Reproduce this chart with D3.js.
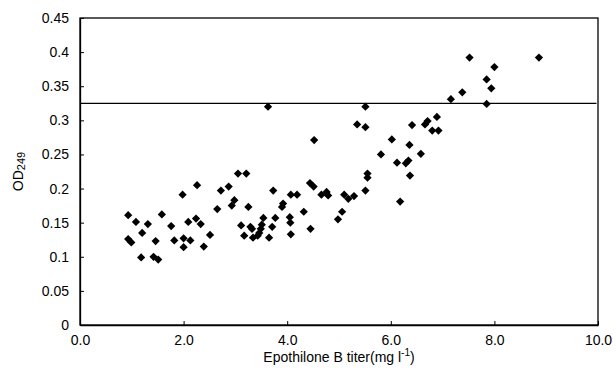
<!DOCTYPE html>
<html>
<head>
<meta charset="utf-8">
<script src="https://cdn.jsdelivr.net/npm/d3@7"></script>
<style>
  body { margin: 0; background: #fff; }
  text { font-family: "Liberation Sans", Arial, sans-serif; }
</style>
</head>
<body>
<div id="chart"></div>
<script>
// epothilone B titer (mg/l) vs OD249
var titer = [0.93, 0.93, 0.99, 1.08, 1.18, 1.20, 1.31, 1.42, 1.46, 1.51,
             1.58, 1.76, 1.82, 1.98, 2.00, 2.00, 2.09, 2.13, 2.24, 2.26,
             2.33, 2.39, 2.51, 2.65, 2.72, 2.87, 2.93, 2.98, 3.05, 3.21,
             3.11, 3.17, 3.25, 3.29, 3.32, 3.34, 3.43, 3.46, 3.49, 3.51,
             3.54, 3.63, 3.65, 3.71, 3.73, 3.77, 3.90, 3.92, 4.05, 4.06,
             4.07, 4.07, 4.19, 4.32, 4.44, 4.51, 4.45, 4.52, 4.66, 4.76,
             4.79, 4.98, 5.06, 5.10, 5.18, 5.29, 5.35, 5.51, 5.51, 5.51,
             5.55, 5.55, 5.81, 6.02, 6.12, 6.18, 6.29, 6.34, 6.36, 6.37,
             6.41, 6.58, 6.66, 6.71, 6.80, 6.89, 6.92, 7.16, 7.38, 7.52,
             7.85, 7.85, 7.94, 8.00, 8.86];
var od = [0.161, 0.126, 0.121, 0.151, 0.099, 0.135, 0.148, 0.100, 0.123, 0.096,
          0.162, 0.145, 0.124, 0.191, 0.127, 0.114, 0.151, 0.124, 0.156, 0.205,
          0.148, 0.115, 0.132, 0.170, 0.197, 0.203, 0.175, 0.183, 0.222, 0.222,
          0.146, 0.131, 0.173, 0.144, 0.141, 0.128, 0.131, 0.135, 0.141, 0.147,
          0.157, 0.320, 0.128, 0.144, 0.197, 0.157, 0.173, 0.178, 0.158, 0.150,
          0.133, 0.191, 0.191, 0.166, 0.208, 0.203, 0.141, 0.271, 0.191, 0.195,
          0.190, 0.155, 0.166, 0.191, 0.185, 0.189, 0.294, 0.290, 0.320, 0.197,
          0.222, 0.216, 0.250, 0.272, 0.238, 0.181, 0.237, 0.241, 0.264, 0.219,
          0.293, 0.251, 0.294, 0.299, 0.285, 0.305, 0.285, 0.331, 0.341, 0.392,
          0.324, 0.360, 0.347, 0.378, 0.392];
var xTicks = [0, 2, 4, 6, 8, 10];
var yTicks = [0, 0.05, 0.1, 0.15, 0.2, 0.25, 0.3, 0.35, 0.4, 0.45];
var threshold = 0.325;

var margin = {top: 18, right: 18, bottom: 56, left: 80};
var width = 616 - margin.left - margin.right,
    height = 381 - margin.top - margin.bottom;

var svg = d3.select("#chart")
    .append("svg")
    .attr("width", 616)
    .attr("height", 381)
    .append("g")
    .attr("transform", "translate(" + margin.left + "," + margin.top + ")");

var x = d3.scaleLinear().domain([0, 10]).range([0, width]);
var y = d3.scaleLinear().domain([0, 0.45]).range([height, 0]);

// frame
svg.append("rect")
    .attr("x", 0).attr("y", 0)
    .attr("width", width).attr("height", height)
    .attr("fill", "none")
    .attr("stroke", "#000")
    .attr("stroke-width", 1.3);

var xAxis = svg.append("g")
    .attr("transform", "translate(0," + height + ")")
    .call(d3.axisBottom(x).tickValues(xTicks).tickFormat(d3.format(".1f"))
          .tickSizeInner(-4).tickSizeOuter(0).tickPadding(10));

var yAxis = svg.append("g")
    .call(d3.axisLeft(y).tickValues(yTicks).tickFormat(d => d3.format("")(+d.toFixed(2)))
          .tickSizeInner(-4).tickSizeOuter(0).tickPadding(11));

[xAxis, yAxis].forEach(function(a) {
    a.select(".domain").attr("stroke", "#000").attr("stroke-width", 1.3);
    a.selectAll(".tick line").attr("stroke", "#000");
    a.selectAll(".tick text").style("font-size", "14px").attr("fill", "#000");
});

// reference line
svg.append("line")
    .attr("x1", x(0)).attr("x2", x(9.97))
    .attr("y1", y(threshold)).attr("y2", y(threshold))
    .attr("stroke", "#000")
    .attr("stroke-width", 1.3);

var diamond = d3.symbol().type(d3.symbolSquare).size(34);
svg.selectAll(".pt")
    .data(d3.range(titer.length))
    .join("path")
    .attr("class", "pt")
    .attr("d", diamond)
    .attr("transform", i => "translate(" + x(titer[i]) + "," + y(od[i]) + ") rotate(45)")
    .attr("fill", "#000");

// axis titles
var xl = svg.append("text")
    .attr("x", width / 2)
    .attr("y", height + 37)
    .attr("text-anchor", "middle")
    .style("font-size", "14px");
xl.append("tspan").text("Epothilone B titer(mg l");
xl.append("tspan").attr("dy", -6).style("font-size", "10px").text("-1");
xl.append("tspan").attr("dy", 6).text(")");

var yl = svg.append("text")
    .attr("transform", "translate(-57," + (height / 2) + ") rotate(-90)")
    .attr("text-anchor", "middle")
    .style("font-size", "14px");
yl.append("tspan").text("OD");
yl.append("tspan").attr("dy", 2).style("font-size", "11px").text("249");
</script>
</body>
</html>
